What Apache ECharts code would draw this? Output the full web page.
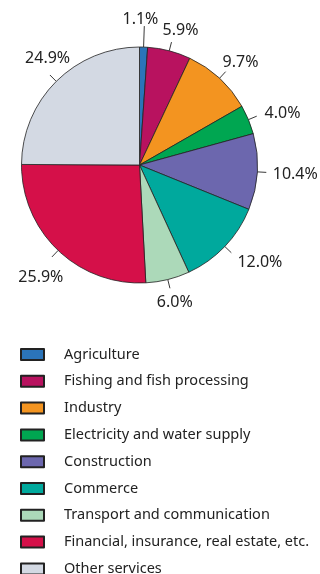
<!DOCTYPE html>
<html><head><meta charset="utf-8">
<script src="https://cdn.jsdelivr.net/npm/echarts@6/dist/echarts.min.js"></script>
<style>html,body{margin:0;padding:0;background:#fff}#c{width:320px;height:574px}</style>
</head><body><div id="c"></div>
<script>
const categories = ["Agriculture","Fishing and fish processing","Industry","Electricity and water supply","Construction","Commerce","Transport and communication","Financial, insurance, real estate, etc.","Other services"];
const shares = [1.1, 5.9, 9.7, 4.0, 10.4, 12.0, 6.0, 25.9, 24.9];
const colors = ["#2b74b9","#b8125f","#f39420","#00a651","#6c67ae","#00a99d","#acd9b9","#d51049","#d3d9e3"];
// small label nudges (px) away from the default ring placement
const labelNudge = [[-4,-3],[5,4],[4,3],[11,3],[13,1],[17,-1],[1,-1],[0,9],[9,-5]];

const chart = echarts.init(document.getElementById('c'), null, {renderer:'canvas'});
const base = {type:'pie', center:[139.5,165], startAngle:90, clockwise:true, avoidLabelOverlap:false, emphasis:{disabled:true}, silent:true, minShowLabelAngle:0};
chart.setOption({
  animation:false,
  color: colors,
  textStyle:{fontFamily:'Noto Sans'},
  legend:{
    orient:'vertical', left:20, top:347, height:240, padding:0,
    itemWidth:23, itemHeight:11, itemGap:11.8,
    icon:'rect',
    selectedMode:false,
    textStyle:{fontSize:14.5, color:'#222', fontFamily:'Noto Sans', padding:[0,0,0,15]},
    data: categories
  },
  series:[
    Object.assign({}, base, {
      name:'main',
      radius:118,
      itemStyle:{borderColor:'#222', borderWidth:0.8},
      label:{show:true, position:'outside', formatter:' ', fontSize:1, distanceToLabelLine:0},
      labelLine:{show:true, length:9, length2:0, lineStyle:{color:'#222', width:0.9}},
      data: categories.map((n,i)=>({name:n, value:shares[i], labelLine: i===0 ? {length:21} : undefined}))
    }),
    Object.assign({}, base, {
      name:'labels',
      radius:[125,155],
      itemStyle:{color:'rgba(0,0,0,0)', borderWidth:0},
      labelLayout:{hideOverlap:false},
      label:{show:true, position:'inside', formatter: p => p.value.toFixed(1)+'%', fontSize:16, color:'#222', fontFamily:'Noto Sans'},
      labelLine:{show:false},
      data: categories.map((n,i)=>({name:n, value:shares[i], label:{offset:labelNudge[i]}}))
    })
  ]
});
</script></body></html>
